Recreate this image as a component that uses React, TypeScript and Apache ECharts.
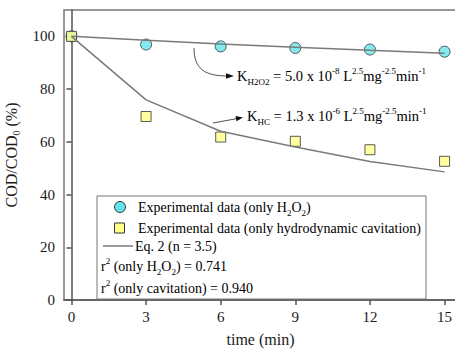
import React, { useEffect, useRef } from "react";
import * as echarts from "echarts";

const timeMin = [0, 3, 6, 9, 12, 15];
const h2o2Data = [100, 96.9, 96.2, 95.6, 95.0, 94.2];
const cavData = [100, 69.6, 61.8, 60.2, 57.0, 52.6];
const h2o2Fit = [100, 98.5, 97.1, 95.9, 94.7, 93.6];
const cavFit = [100, 75.9, 64.0, 58.0, 52.5, 48.6];
const xTicks = [0, 3, 6, 9, 12, 15];
const yTicks = [0, 20, 40, 60, 80, 100];

const FONT = "Liberation Serif";
const CYAN = "#66E4EC";
const YELLOW = "#FFFF8A";
const LINE = "#7a7a7a";
const AXIS = "#555";
const TXT = "#1a1a1a";

const rich = (size: number) => ({
  m: { fontFamily: FONT, fontSize: size, fontWeight: "normal", color: TXT, lineHeight: 20, verticalAlign: "middle" },
  sub: { fontFamily: FONT, fontSize: Math.round(size * 0.65), fontWeight: "normal", color: TXT, lineHeight: 9, verticalAlign: "bottom" },
  sup: { fontFamily: FONT, fontSize: Math.round(size * 0.65), fontWeight: "normal", color: TXT, lineHeight: 9, verticalAlign: "top" },
});

export default function App() {
  const ref = useRef<HTMLDivElement>(null);
  useEffect(() => {
    if (!ref.current) return;
    const chart = echarts.init(ref.current, null, { renderer: "svg" });
    const pairs = (ys: number[]) => timeMin.map((t, i) => [t, ys[i]]);
    chart.setOption({
      animation: false,
      backgroundColor: "#fff",
      textStyle: { fontFamily: FONT },
      grid: {
        left: 64,
        top: 10,
        width: 393,
        height: 290,
        show: true,
        borderColor: "#777",
        borderWidth: 1.5,
        containLabel: false,
        outerBoundsMode: "none",
      },
      xAxis: {
        type: "value",
        min: -0.3,
        max: 15.5,
        name: "time (min)",
        nameLocation: "middle",
        nameGap: 31,
        nameTextStyle: { fontFamily: FONT, fontSize: 16, fontWeight: "normal", color: TXT },
        axisLine: { lineStyle: { color: AXIS, width: 1.5 } },
        axisTick: { show: true, inside: false, length: 5, customValues: xTicks, lineStyle: { color: AXIS, width: 1.5 } },
        axisLabel: { customValues: xTicks, margin: 9, fontFamily: FONT, fontSize: 15, color: TXT },
        splitLine: { show: false },
      },
      yAxis: {
        type: "value",
        min: 0,
        max: 110,
        name: "{m|COD/COD}{sub|0}{m| (%)}",
        nameLocation: "middle",
        nameRotate: 90,
        nameGap: 32,
        nameTextStyle: { rich: rich(16) },
        axisLine: { lineStyle: { color: AXIS, width: 1.5 } },
        axisTick: { show: true, inside: false, length: 5, customValues: yTicks, lineStyle: { color: AXIS, width: 1.5 } },
        axisLabel: { customValues: yTicks, margin: 9, fontFamily: FONT, fontSize: 15, color: TXT },
        splitLine: { show: false },
      },
      series: [
        {
          type: "scatter",
          data: pairs(h2o2Data),
          symbol: "circle",
          symbolSize: 11,
          itemStyle: { color: CYAN, borderColor: "#333", borderWidth: 1 },
          z: 2,
        },
        {
          type: "scatter",
          data: pairs(cavData),
          symbol: "rect",
          symbolSize: 10,
          itemStyle: { color: YELLOW, borderColor: "#333", borderWidth: 1 },
          z: 2,
        },
        {
          type: "line",
          data: pairs(h2o2Fit),
          showSymbol: false,
          symbol: "none",
          lineStyle: { color: LINE, width: 1.5 },
          z: 3,
        },
        {
          type: "line",
          data: pairs(cavFit),
          showSymbol: false,
          symbol: "none",
          lineStyle: { color: LINE, width: 1.5 },
          z: 3,
        },
      ],
      graphic: [
        {
          type: "bezierCurve",
          shape: { x1: 194, y1: 48, cpx1: 194, cpy1: 70, x2: 228, y2: 76, cpx2: 206, cpy2: 76 },
          style: { stroke: "#222", lineWidth: 0.8, fill: "none" },
          z: 10,
        },
        {
          type: "polygon",
          shape: { points: [[234, 76], [226, 73.3], [226, 78.7]] },
          style: { fill: "#111" },
          z: 10,
        },
        {
          type: "text",
          x: 237,
          y: 76,
          style: {
            text: "{m|K}{sub|H2O2}{m| = 5.0 x 10}{sup|-8}{m| L}{sup|2.5}{m|mg}{sup|-2.5}{m|min}{sup|-1}",
            rich: rich(14.5),
            verticalAlign: "middle",
          },
          z: 10,
        },
        {
          type: "line",
          shape: { x1: 213, y1: 123, x2: 237, y2: 118.6 },
          style: { stroke: "#222", lineWidth: 0.8 },
          z: 10,
        },
        {
          type: "polygon",
          shape: { points: [[243, 117.5], [235.5, 116], [236.5, 121.2]] },
          style: { fill: "#111" },
          z: 10,
        },
        {
          type: "text",
          x: 247,
          y: 116,
          style: {
            text: "{m|K}{sub|HC}{m| = 1.3 x 10}{sup|-6}{m| L}{sup|2.5}{m|mg}{sup|-2.5}{m|min}{sup|-1}",
            rich: rich(14.5),
            verticalAlign: "middle",
          },
          z: 10,
        },
        {
          type: "rect",
          shape: { x: 97, y: 196, width: 329, height: 103 },
          style: { fill: "#fff", stroke: "#777", lineWidth: 1 },
          z: 20,
        },
        {
          type: "circle",
          shape: { cx: 120, cy: 207, r: 5.5 },
          style: { fill: CYAN, stroke: "#333", lineWidth: 1 },
          z: 21,
        },
        {
          type: "rect",
          shape: { x: 114.5, y: 223, width: 10, height: 10 },
          style: { fill: YELLOW, stroke: "#333", lineWidth: 1 },
          z: 21,
        },
        {
          type: "line",
          shape: { x1: 103, y1: 246, x2: 133, y2: 246 },
          style: { stroke: LINE, lineWidth: 1.5 },
          z: 21,
        },
        {
          type: "text",
          x: 138,
          y: 207,
          style: { text: "{m|Experimental data (only H}{sub|2}{m|O}{sub|2}{m|)}", rich: rich(14), verticalAlign: "middle" },
          z: 21,
        },
        {
          type: "text",
          x: 138,
          y: 228,
          style: { text: "{m|Experimental data (only hydrodynamic cavitation)}", rich: rich(14), verticalAlign: "middle" },
          z: 21,
        },
        {
          type: "text",
          x: 135,
          y: 246,
          style: { text: "{m|Eq. 2 (n = 3.5)}", rich: rich(14), verticalAlign: "middle" },
          z: 21,
        },
        {
          type: "text",
          x: 101,
          y: 266,
          style: { text: "{m|r}{sup|2}{m| (only H}{sub|2}{m|O}{sub|2}{m|) = 0.741}", rich: rich(14), verticalAlign: "middle" },
          z: 21,
        },
        {
          type: "text",
          x: 101,
          y: 288,
          style: { text: "{m|r}{sup|2}{m| (only cavitation) = 0.940}", rich: rich(14), verticalAlign: "middle" },
          z: 21,
        },
      ],
    });
    return () => chart.dispose();
  }, []);
  return <div ref={ref} style={{ width: 455, height: 349, position: "fixed", left: 0, top: 0 }} />;
}
